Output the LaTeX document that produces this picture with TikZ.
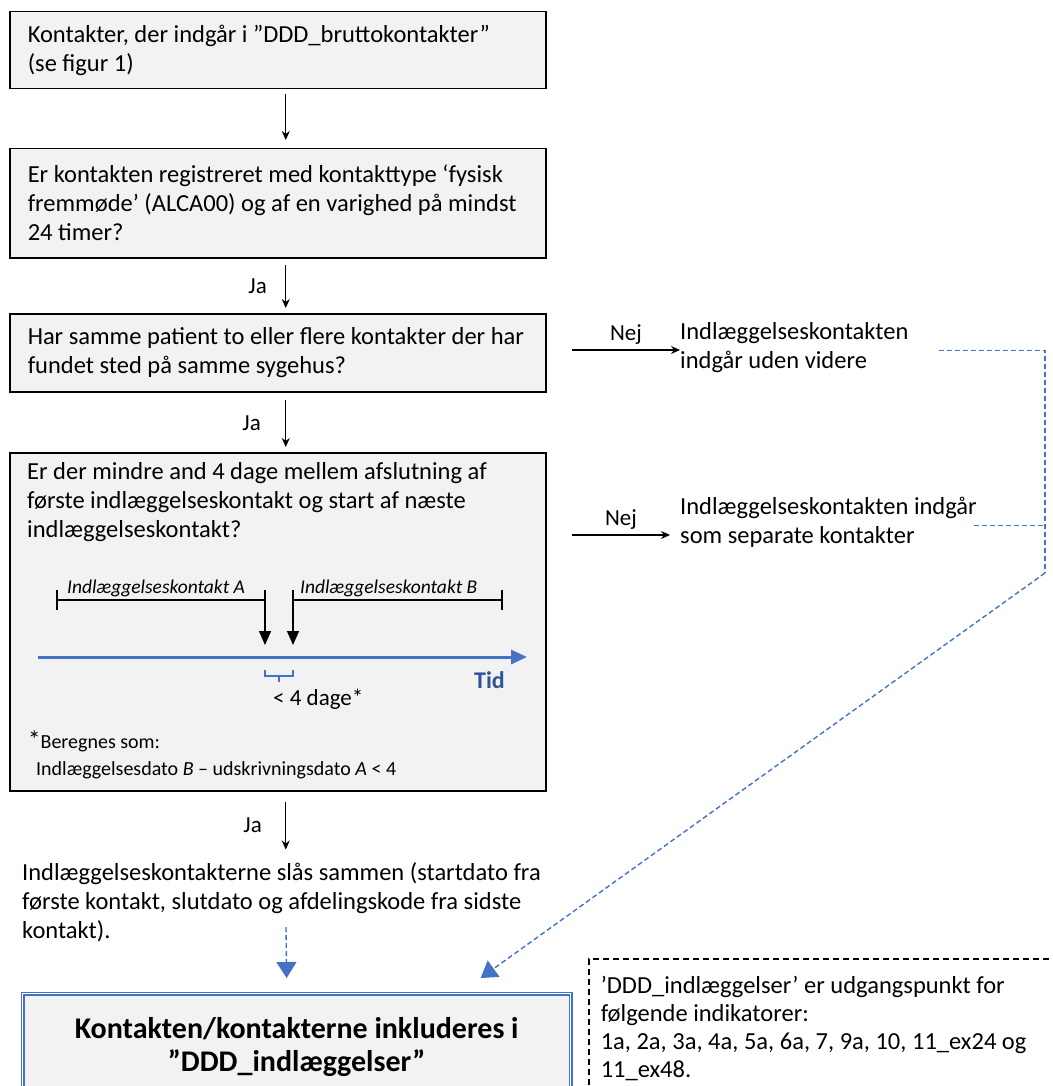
\documentclass[tikz,border=0pt]{standalone}
\usepackage{fontspec}
\setmainfont{Carlito}
\usetikzlibrary{arrows.meta}
\definecolor{boxgray}{RGB}{242,242,242}
\definecolor{lineblue}{RGB}{68,114,196}
\definecolor{tidblue}{RGB}{47,85,151}
\tikzstyle{qbox}=[draw, line width=1.5pt, fill=boxgray, anchor=north west, minimum width=536pt, text width=500pt, inner xsep=18pt, align=flush left, font=\fontsize{24.5}{29}\selectfont]
\tikzstyle{plain}=[anchor=north west, inner sep=0pt, align=left, font=\fontsize{24.5}{29}\selectfont]
\tikzstyle{arr}=[line width=1.2pt, -{Stealth[length=9pt,width=8pt]}]
\tikzstyle{tick}=[line width=1.4pt]
\tikzstyle{down}=[line width=1.4pt, -{Triangle[length=14pt,width=12pt]}]
\tikzstyle{bdash}=[lineblue, line width=1.4pt, dash pattern=on 5pt off 3pt]
\tikzstyle{barr}=[bdash, -{Triangle[length=16pt,width=20pt]}]

\begin{document}
\frenchspacing
\begin{tikzpicture}[x=1pt, y=-1pt]
\useasboundingbox (0,0) rectangle (1052,1086);

\node[qbox, minimum height=77pt] at (9,11) (kont) {Kontakter, der indgår i ”DDD\_bruttokontakter”\\(se figur 1)};
\node[qbox, minimum height=109pt] at (9,148) (fys) {Er kontakten registreret med kontakttype ‘fysisk\\fremmøde’ (ALCA00) og af en varighed på mindst\\24 timer?};
\node[qbox, minimum height=78pt] at (9,313) (samme) {Har samme patient to eller flere kontakter der har\\fundet sted på samme sygehus?};
\node[qbox, minimum height=338pt] at (9,452) (mindre) {};
\node[plain] at (27,462) (mtxt) {Er der mindre and 4 dage mellem afslutning af\\første indlæggelseskontakt og start af næste\\indlæggelseskontakt?};

\draw[arr] ([xshift=8pt,yshift=-5pt]kont.south) -- ([xshift=8pt,yshift=8pt]fys.north);
\draw[arr] ([xshift=8pt,yshift=-6pt]fys.south) -- node[left=15pt, font=\fontsize{23}{23}\selectfont] {Ja} ([xshift=8pt,yshift=5pt]samme.north);
\draw[arr] ([xshift=8pt,yshift=-7pt]samme.south) -- node[left=21pt, font=\fontsize{23}{23}\selectfont] {Ja} ([xshift=8pt,yshift=5pt]mindre.north);
\draw[arr] ([xshift=8pt,yshift=-10pt]mindre.south) -- node[left=20pt, font=\fontsize{23}{23}\selectfont] {Ja} ([xshift=8pt,yshift=-58pt]mindre.south);

\coordinate (ta0) at (57,600);
\coordinate (ta1) at (265,600);
\coordinate (tb0) at (293,600);
\coordinate (tb1) at (502,600);
\draw[tick] (ta0) -- (ta1);
\draw[tick] (tb0) -- (tb1);
\draw[tick] ([yshift=10pt]ta0) -- ([yshift=-10pt]ta0);
\draw[tick] ([yshift=10pt]tb1) -- ([yshift=-10pt]tb1);
\draw[down] ([yshift=10pt]ta1) -- ([yshift=-45pt]ta1);
\draw[down] ([yshift=10pt]tb0) -- ([yshift=-45pt]tb0);
\node[anchor=base west, inner sep=0pt, font=\fontsize{19.5}{19.5}\selectfont\itshape] at (67,593) (lba) {Indlæggelseskontakt A};
\node[anchor=base west, inner sep=0pt, font=\fontsize{19.5}{19.5}\selectfont\itshape] at (300,593) (lbb) {Indlæggelseskontakt B};

\coordinate (t0) at (38,657);
\coordinate (t1) at (527,657);
\draw[lineblue, line width=3pt, -{Triangle[length=16pt,width=14pt]}] (t0) -- (t1);
\node[anchor=base east, inner sep=0pt, text=tidblue, font=\fontsize{24}{24}\selectfont\bfseries] at (505,688) (tid) {Tid};
\draw[lineblue, line width=1.2pt] (265,670) -- (265,676) -- (293,676) -- (293,670) (279,676) -- (279,682);
\node[anchor=base west, inner sep=0pt, font=\fontsize{23}{23}\selectfont] at (273,705) (dage) {< 4 dage*};
\node[anchor=base west, inner sep=0pt, font=\fontsize{20}{20}\selectfont] at (28,748) (ber) {{\fontsize{25}{25}\selectfont*}Beregnes som:};
\node[anchor=base west, inner sep=0pt, font=\fontsize{20}{20}\selectfont] at (36,775) (form) {Indlæggelsesdato \textit{B} – udskrivningsdato \textit{A} < 4};

\node[plain] at (680,322) (udenvid) {Indlæggelseskontakten\\indgår uden videre};
\node[plain] at (680,497) (separat) {Indlæggelseskontakten indgår\\som separate kontakter};
\coordinate (nej1) at (572,350);
\coordinate (nej2) at (572,535);
\draw[arr] (nej1) -- node[above=2pt, font=\fontsize{23}{23}\selectfont] {Nej} (nej1 -| udenvid.west);
\draw[arr] (nej2) -- node[above=2pt, font=\fontsize{23}{23}\selectfont] {Nej} ([xshift=-10pt]nej2 -| separat.west);

\node[plain] at (22,862) (slaa) {Indlæggelseskontakterne slås sammen (startdato fra\\første kontakt, slutdato og afdelingskode fra sidste\\kontakt).};

\node[draw=lineblue, double=white, double distance=1.5pt, line width=1.3pt, fill=boxgray, anchor=north west, minimum width=548pt, minimum height=106pt, align=center, font=\fontsize{30}{33}\selectfont\bfseries] at (22,993) (fin) {Kontakten/kontakterne inkluderes i\\”DDD\_indlæggelser”};

\node[draw, line width=1.5pt, dash pattern=on 6pt off 4pt, anchor=north west, minimum width=480pt, minimum height=140pt, text width=456pt, inner xsep=12pt, align=flush left, font=\fontsize{24.5}{28}\selectfont] at (588,958) (ind) {’DDD\_indlæggelser’ er udgangspunkt for\\følgende indikatorer:\\1a, 2a, 3a, 4a, 5a, 6a, 7, 9a, 10, 11\_ex24 og\\11\_ex48.};

\coordinate (jbot) at (1045,573);
\coordinate (slaaend) at (286,927);
\draw[bdash] ([xshift=30pt,yshift=-3pt]udenvid.east) -| (jbot);
\draw[bdash] ([xshift=-3pt,yshift=-3pt]separat.east) -- ([yshift=-3pt]separat.east -| jbot);
\draw[barr] (jbot) -- ([xshift=184pt,yshift=15pt]fin.north);
\draw[barr] (slaaend) -- ([xshift=-10pt,yshift=15pt]fin.north);

\end{tikzpicture}
\end{document}
